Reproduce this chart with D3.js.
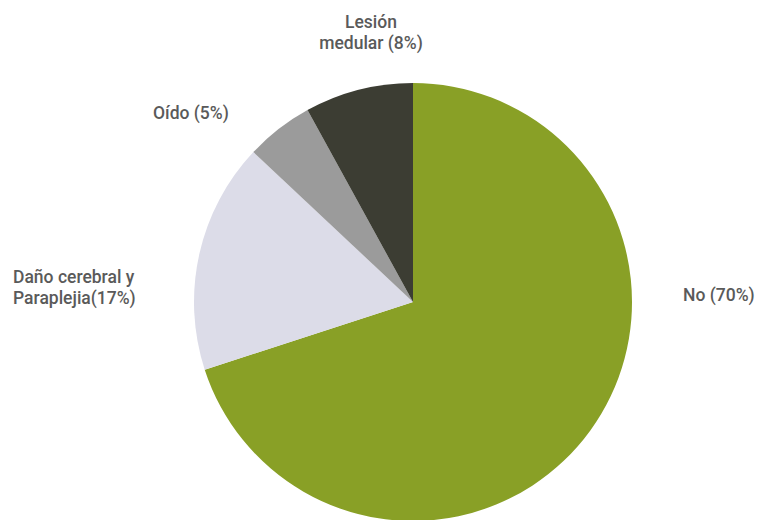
<!DOCTYPE html>
<html><head><meta charset="utf-8">
<script src="https://cdn.jsdelivr.net/npm/d3@7"></script>
<style>html,body{margin:0;padding:0;background:#fff;}</style>
</head><body>
<svg id="c" width="761" height="520"></svg>
<script>
const categories = ["No", "Daño cerebral y Paraplejia", "Oído", "Lesión medular"];
const values = [70, 17, 5, 8];
const labelLines = [["No (70%)"], ["Daño cerebral y", "Paraplejia(17%)"], ["Oído (5%)"], ["Lesión", "medular (8%)"]];
const colors = ["#89a026", "#dcdce8", "#9b9b9b", "#3c3d33"];

const svg = d3.select("#c");
const cx = 413, cy = 302, r = 219;
const pie = d3.pie().sort(null).value(d => d)(values);
const arc = d3.arc().innerRadius(0).outerRadius(r);
const g = svg.append("g").attr("transform", `translate(${cx},${cy})`);
g.selectAll("path").data(pie).join("path")
  .attr("d", arc).attr("fill", (d, i) => colors[i]);

// label placement: [x, firstBaseline, anchor]
const labelPos = [[683, 301, "start"], [13, 283, "start"], [153, 119, "start"], [371, 28, "middle"]];
labelLines.forEach((lines, i) => {
  const t = svg.append("text")
    .attr("x", labelPos[i][0]).attr("y", labelPos[i][1])
    .attr("text-anchor", labelPos[i][2])
    .attr("font-family", "Roboto, sans-serif").attr("font-size", 17.5)
    .attr("font-weight", 500)
    .attr("fill", "#5a5a5a");
  lines.forEach((l, j) => t.append("tspan").attr("x", labelPos[i][0]).attr("dy", j ? 21 : 0).text(l));
});
</script>
</body></html>
